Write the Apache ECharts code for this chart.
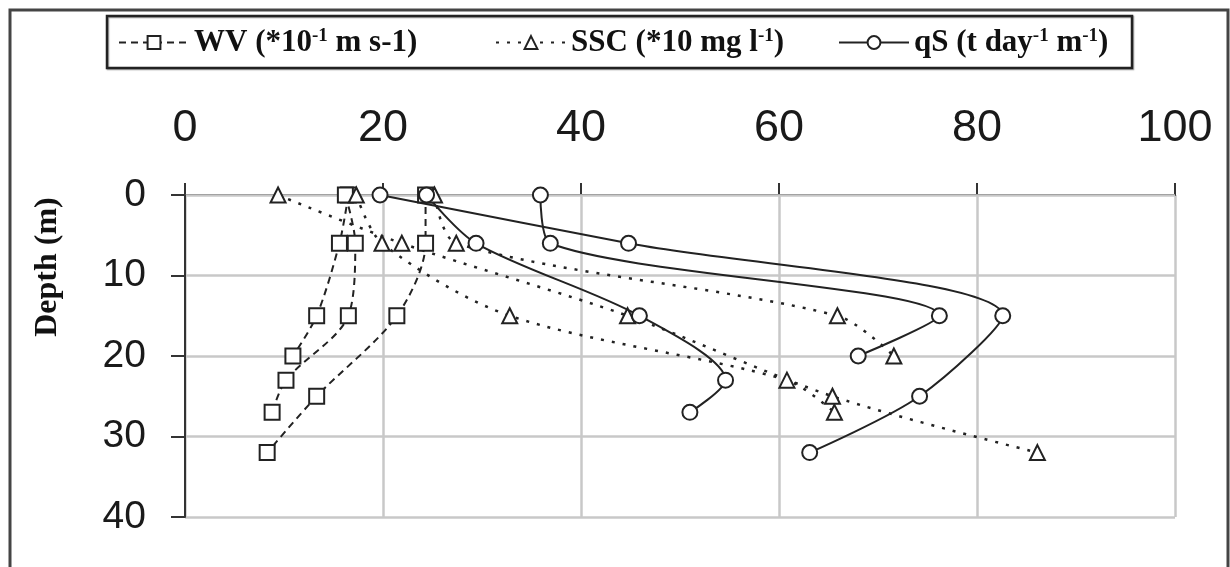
<!DOCTYPE html>
<html>
<head>
<meta charset="utf-8">
<script src="https://cdn.jsdelivr.net/npm/echarts@6/dist/echarts.min.js"></script>
<style>
html,body{margin:0;padding:0;background:#fff;}
#chart{width:1230px;height:567px;}
</style>
</head>
<body>
<div id="chart"></div>
<script>
// ---- data ----
const xTicks = [0, 20, 40, 60, 80, 100];
const yTicks = [0, 10, 20, 30, 40];

const depth1 = [0, 6, 15, 20];
const depth2 = [0, 6, 15, 23, 27];
const depth3 = [0, 6, 15, 25, 32];

const wv1 = [16.5, 15.6, 13.3, 10.9];
const wv2 = [16.2, 17.2, 16.5, 10.2, 8.8];
const wv3 = [24.3, 24.3, 21.4, 13.3, 8.3];

const ssc1 = [25.2, 27.4, 65.9, 71.6];
const ssc2 = [17.3, 19.9, 32.8, 60.8, 65.6];
const ssc3 = [9.4, 21.9, 44.7, 65.4, 86.1];

const qs1 = [35.9, 36.9, 76.2, 68.0];
const qs2 = [24.4, 29.4, 45.9, 54.6, 51.0];
const qs3 = [19.7, 44.8, 82.6, 74.2, 63.1];

const seriesNames = ['WV', 'SSC', 'qS'];
const legendLabels = {
  'WV': 'WV (*10{sup|-1} m s-1)',
  'SSC': 'SSC (*10 mg l{sup|-1})',
  'qS': 'qS (t day{sup|-1} m{sup|-1})'
};

function pairs(xs, ds) { return xs.map((v, i) => [v, ds[i]]); }

const INK = '#222';
const lineDefs = {
  'WV':  { symbol: 'rect',     type: [7, 5], width: 2 },
  'SSC': { symbol: 'triangle', type: [3, 8], width: 2.5 },
  'qS':  { symbol: 'circle',   type: 'solid', width: 2 }
};

function mkSeries(name, xs, ds) {
  const d = lineDefs[name];
  return {
    name: name,
    type: 'line',
    smooth: 0.3,
    data: pairs(xs, ds),
    symbol: d.symbol,
    symbolSize: 15,
    showAllSymbol: true,
    itemStyle: { color: '#fff', borderColor: INK, borderWidth: 2 },
    lineStyle: { color: INK, width: d.width, type: d.type },
    emphasis: { disabled: true },
    animation: false
  };
}

const series = [
  mkSeries('WV', wv1, depth1), mkSeries('WV', wv2, depth2), mkSeries('WV', wv3, depth3),
  mkSeries('SSC', ssc1, depth1), mkSeries('SSC', ssc2, depth2), mkSeries('SSC', ssc3, depth3),
  mkSeries('qS', qs1, depth1), mkSeries('qS', qs2, depth2), mkSeries('qS', qs3, depth3)
];

const legendText = {
  fontFamily: 'Liberation Serif', fontWeight: 'bold', fontSize: 31, color: '#111',
  rich: {
    sup: { fontFamily: 'Liberation Serif', fontWeight: 'bold', fontSize: 19, color: '#111', verticalAlign: 'top', padding: [0, 0, 10, 0] }
  }
};
const legendPos = [118, 495, 838];
const legends = seriesNames.map((n, i) => ({
  data: [n],
  left: legendPos[i],
  top: 27,
  itemWidth: 70,
  itemHeight: 16,
  itemGap: 0,
  padding: 0,
  selectedMode: false,
  textStyle: legendText,
  formatter: nm => legendLabels[nm]
}));

const chart = echarts.init(document.getElementById('chart'), null, { renderer: 'canvas' });
chart.setOption({
  backgroundColor: '#fff',
  animation: false,
  grid: { left: 185, right: 55, top: 195, bottom: 50, containLabel: false },
  legend: legends,
  xAxis: {
    type: 'value', position: 'top', min: xTicks[0], max: xTicks[xTicks.length - 1], interval: 20,
    axisLine: { show: true, lineStyle: { color: '#333', width: 2 } },
    axisTick: { show: true, length: 12, lineStyle: { color: '#333', width: 2 } },
    axisLabel: { fontFamily: 'Liberation Sans', fontSize: 45, color: '#1a1a1a', margin: 44 },
    splitLine: { show: true, lineStyle: { color: '#c8c8c8', width: 2.5 } },
    z: 1
  },
  yAxis: {
    type: 'value', inverse: true, min: yTicks[0], max: yTicks[yTicks.length - 1], interval: 10,
    axisLine: { show: true, lineStyle: { color: '#333', width: 2 } },
    axisTick: { show: true, length: 14, lineStyle: { color: '#333', width: 2 } },
    axisLabel: { fontFamily: 'Liberation Sans', fontSize: 39, color: '#1a1a1a', margin: 39 },
    splitLine: { show: true, lineStyle: { color: '#c8c8c8', width: 2.5 } },
    z: 2
  },
  graphic: [
    { type: 'polyline', shape: { points: [[10, 600], [10, 10], [1228, 10], [1228, 600]] },
      style: { stroke: '#444', lineWidth: 3, fill: null }, silent: true, z: 10 },
    { type: 'rect', shape: { x: 107, y: 16, width: 1025, height: 52 },
      style: { stroke: '#222', lineWidth: 2.5, fill: null, shadowColor: 'rgba(0,0,0,0.35)', shadowOffsetX: 1, shadowOffsetY: 1, shadowBlur: 1 },
      silent: true, z: 10 },
    { type: 'text', x: 48, y: 267, rotation: Math.PI / 2,
      style: { text: 'Depth (m)', font: 'bold 32px "Liberation Serif"', fill: '#111', textAlign: 'center', textVerticalAlign: 'middle' },
      silent: true, z: 10 }
  ],
  series: series
});
</script>
</body>
</html>
